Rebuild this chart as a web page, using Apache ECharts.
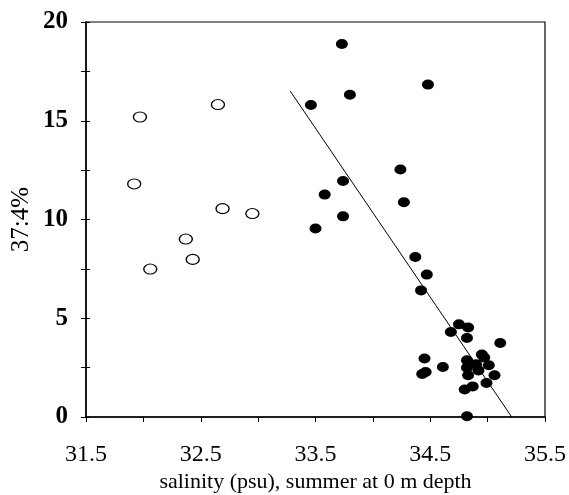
<!DOCTYPE html>
<html>
<head>
<meta charset="utf-8">
<script src="https://cdn.jsdelivr.net/npm/echarts@6/dist/echarts.min.js"></script>
<style>
  html, body { margin: 0; padding: 0; background: #fff; }
  #main { width: 569px; height: 495px; }
</style>
</head>
<body>
<div id="main"></div>
<script>
// open circles (left group)
var openX = [31.97, 32.65, 31.92, 32.69, 32.95, 32.37, 32.06, 32.43];
var openY = [15.19, 15.82, 11.80, 10.55, 10.30, 9.01, 7.49, 7.98];

// filled circles
var fillX = [33.73, 34.48, 33.80, 33.46, 34.24, 33.74, 33.58, 34.27, 33.74, 33.50,
             34.37, 34.47, 34.42,
             34.75, 34.83, 34.68, 34.82, 35.11, 34.45, 34.95, 34.97, 34.82, 34.61,
             34.90, 35.01, 34.82, 34.92, 34.43, 34.46, 34.83, 35.06, 34.99, 34.87,
             34.80, 34.82];
var fillY = [18.89, 16.83, 16.32, 15.80, 12.53, 11.95, 11.26, 10.87, 10.16, 9.54,
             8.10, 7.21, 6.41,
             4.69, 4.53, 4.30, 4.00, 3.75, 2.96, 3.16, 3.01, 2.87, 2.53,
             2.67, 2.62, 2.50, 2.36, 2.18, 2.28, 2.11, 2.11, 1.72, 1.55,
             1.39, 0.04];

// regression line end points
var fitX = [33.28, 35.21];
var fitY = [16.5, 0];

var xTicks = [31.5, 32.5, 33.5, 34.5, 35.5];

function pairs(xs, ys) {
	return xs.map(function(x, i) { return [x, ys[i]]; });
}

var serif = '"Liberation Serif", "DejaVu Serif", serif';

var baseX = {
	type: 'value',
	min: 31.5,
	max: 35.5,
	interval: 0.5,
	splitLine: { show: false },
	axisLine: { lineStyle: { color: '#000', width: 1.5 } }
};
var baseY = {
	type: 'value',
	min: 0,
	max: 20,
	interval: 2.5,
	splitLine: { show: false },
	axisLine: { lineStyle: { color: '#000', width: 1.5 } }
};

var option = {
	backgroundColor: '#fff',
	animation: false,
	grid: {
		left: 86, right: 24, top: 22, bottom: 78,
		outerBoundsMode: 'none',
		containLabel: false,
		show: true, borderColor: '#000', borderWidth: 1.2
	},
	xAxis: [
		Object.assign({}, baseX, {
			name: 'salinity (psu), summer at 0 m depth',
			nameLocation: 'middle',
			nameGap: 54,
			nameMoveOverlap: false,
			nameTextStyle: { fontFamily: serif, fontSize: 22, color: '#000' },
			axisTick: { show: true, length: 5, lineStyle: { color: '#000' } },
			axisLabel: {
				margin: 26,
				fontFamily: serif, fontSize: 24, color: '#000',
				formatter: function(v) {
					return xTicks.indexOf(+v.toFixed(1)) >= 0 ? v.toFixed(1) : '';
				}
			}
		}),
		Object.assign({}, baseX, {
			axisLine: { show: false },
			axisTick: { show: true, inside: true, length: 5, lineStyle: { color: '#000' } },
			axisLabel: { show: false }
		})
	],
	yAxis: [
		Object.assign({}, baseY, {
			name: '37:4%',
			nameLocation: 'middle',
			nameRotate: 90,
			nameGap: 52,
			nameMoveOverlap: false,
			nameTextStyle: { fontFamily: serif, fontSize: 25, color: '#000' },
			axisTick: { show: true, length: 5, lineStyle: { color: '#000' } },
			axisLabel: {
				margin: 18,
				fontFamily: serif, fontSize: 25, fontWeight: 'bold', color: '#000',
				formatter: function(v) { return v % 5 === 0 ? String(v) : ''; }
			}
		}),
		Object.assign({}, baseY, {
			axisLine: { show: false },
			position: 'left',
			axisTick: { show: true, inside: true, length: 4, lineStyle: { color: '#000' } },
			axisLabel: { show: false }
		})
	],
	series: [
		{
			name: 'fit',
			type: 'line',
			data: pairs(fitX, fitY),
			symbol: 'none',
			lineStyle: { color: '#000', width: 1 },
			silent: true
		},
		{
			name: 'open',
			type: 'scatter',
			data: pairs(openX, openY),
			symbol: 'circle',
			symbolSize: [13, 10],
			itemStyle: { color: '#fff', borderColor: '#000', borderWidth: 1.2, opacity: 1 }
		},
		{
			name: 'filled',
			type: 'scatter',
			data: pairs(fillX, fillY),
			symbol: 'circle',
			symbolSize: [12, 10],
			itemStyle: { color: '#000', opacity: 1 }
		}
	]
};

var chart = echarts.init(document.getElementById('main'), null, { renderer: 'canvas' });
chart.setOption(option, true);
</script>
</body>
</html>
